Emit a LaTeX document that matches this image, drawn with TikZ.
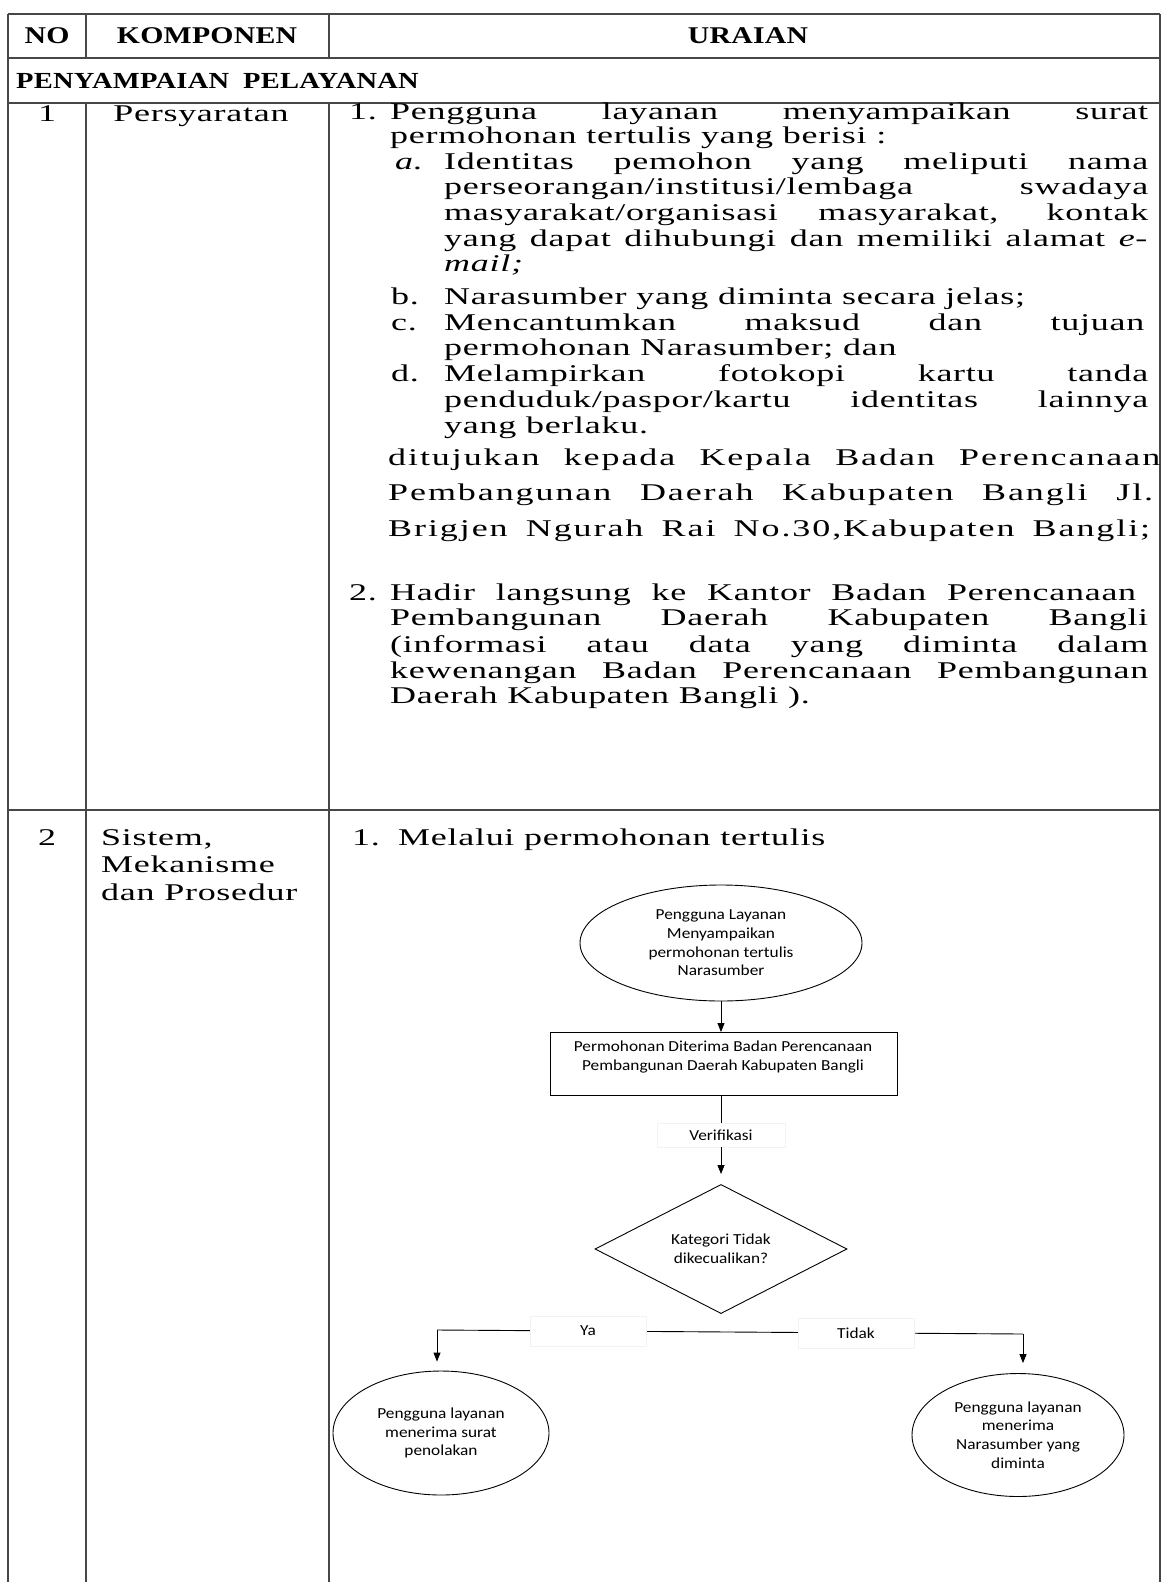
\documentclass[tikz,border=0pt]{standalone}
\usepackage{fontspec}
\setmainfont{Liberation Serif}[FakeStretch=1.5, LetterSpace=3]
\newfontfamily\fhead{Liberation Serif}[FakeStretch=1.24, LetterSpace=1]
\newfontfamily\fcal{Carlito}[FakeStretch=1.13]
\newfontfamily\fsp{Liberation Serif}[FakeStretch=1.5, LetterSpace=8]
\usetikzlibrary{shapes.geometric,arrows.meta}
\newcommand\JL[2]{\makebox[#1pt][s]{#2}}
\begin{document}
\begin{tikzpicture}[x=1pt,y=-1pt,
  tbl/.style={line width=1.4pt, draw=black!72},
  body/.style={anchor=base west, inner sep=0pt, font=\fontsize{24}{25.5}\selectfont},
  bodyc/.style={anchor=base, inner sep=0pt, font=\fontsize{24}{25.5}\selectfont},
  head/.style={anchor=base, inner sep=0pt, font=\fhead\bfseries\fontsize{24}{25.5}\selectfont},
  fc/.style={font=\fcal\fontsize{15.3}{18.7}\selectfont, align=center},
  fshape/.style={draw, line width=0.9pt, inner sep=0pt},
  lbl/.style={draw=black!5, fill=white, inner sep=0pt, font=\fcal\fontsize{15.3}{18.7}\selectfont},
  conn/.style={line width=0.9pt},
  arr/.style={line width=0.9pt, -{Triangle[length=9pt,width=7pt]}}]
\useasboundingbox (0,0) rectangle (1163,1582);
\fill[white] (0,0) rectangle (1163,1582);
% table
\draw[tbl] (8,14) -- (1160,14);
\draw[tbl] (8,58) -- (1160,58);
\draw[tbl] (8,103) -- (1160,103);
\draw[tbl] (8,810) -- (1160,810);
\draw[tbl] (8,14) -- (8,1582);
\draw[tbl] (1160,14) -- (1160,1582);
\draw[tbl] (86,14) -- (86,58);
\draw[tbl] (329,14) -- (329,58);
\draw[tbl] (86,103) -- (86,1582);
\draw[tbl] (329,103) -- (329,1582);
% header
\node[head] (hno) at (47,43) {NO};
\node[head] (hkom) at (207,43) {KOMPONEN};
\node[head] (hur) at (748,43) {URAIAN};
\node[head, anchor=base west, font=\fhead\bfseries\fontsize{23}{25.5}\selectfont] (hsec) at (16,88) {PENYAMPAIAN\hspace{14pt}PELAYANAN};
% row 1
\node[bodyc] (r1no) at (47,121) {1};
\node[bodyc] (r1k) at (201,121) {Persyaratan};
\node[body] (n1) at (349,119) {1.};
\node[body] (l1) at (390,119) {\JL{758}{Pengguna layanan menyampaikan surat}};
\node[body] (l2) at (390,143) {permohonan tertulis yang berisi :};
\node[body] (na) at (395,169) {\textit{a.}};
\node[body] (l3) at (444,169) {\JL{704}{Identitas pemohon yang meliputi nama}};
\node[body] (l4) at (444,194) {\JL{704}{perseorangan/institusi/lembaga swadaya}};
\node[body] (l5) at (444,220) {\JL{704}{masyarakat/organisasi masyarakat, kontak}};
\node[body] (l6) at (444,246) {\JL{704}{yang dapat dihubungi dan memiliki alamat \textit{e-}}};
\node[body] (l7) at (444,271) {\textit{mail;}};
\node[body] (nb) at (391,304) {b.};
\node[body] (l8) at (444,304) {Narasumber yang diminta secara jelas;};
\node[body] (nc) at (391,330) {c.};
\node[body] (l9) at (444,330) {\JL{700}{Mencantumkan maksud dan tujuan}};
\node[body] (l10) at (444,355) {permohonan Narasumber; dan};
\node[body] (nd) at (391,381) {d.};
\node[body] (l11) at (444,381) {\JL{704}{Melampirkan fotokopi kartu tanda}};
\node[body] (l12) at (444,407) {\JL{704}{penduduk/paspor/kartu identitas lainnya}};
\node[body] (l13) at (444,433) {yang berlaku.};
\node[body] (l14) at (388,465) {\fsp\JL{772}{ditujukan kepada Kepala Badan Perencanaan}};
\node[body] (l15) at (388,500) {\fsp\JL{765}{Pembangunan Daerah Kabupaten Bangli Jl.}};
\node[body] (l16) at (388,536) {\fsp\JL{762}{Brigjen Ngurah Rai No.30,Kabupaten Bangli;}};
\node[body] (n2) at (349,600) {2.};
\node[body] (l17) at (390,600) {\JL{746}{Hadir langsung ke Kantor Badan Perencanaan}};
\node[body] (l18) at (390,625) {\JL{758}{Pembangunan Daerah Kabupaten Bangli}};
\node[body] (l19) at (390,652) {\JL{758}{(informasi atau data yang diminta dalam}};
\node[body] (l20) at (390,678) {\JL{758}{kewenangan Badan Perencanaan Pembangunan}};
\node[body] (l21) at (390,703) {Daerah Kabupaten Bangli ).};
% row 2
\node[bodyc] (r2no) at (47,845) {2};
\node[body] (r2k1) at (101,845) {Sistem,};
\node[body] (r2k2) at (101,872) {Mekanisme};
\node[body] (r2k3) at (101,900) {dan Prosedur};
\node[body] (m1n) at (352,845) {1.};
\node[body] (m1) at (398,845) {Melalui permohonan tertulis};
% flowchart
\node[fshape, fc, ellipse, minimum width=282pt, minimum height=116pt] (e1) at (721,943)
  {Pengguna Layanan\\Menyampaikan\\permohonan tertulis\\Narasumber};
\node[fshape, minimum width=347pt, minimum height=63pt] (b1) at (723.5,1064) {};
\node[fc, inner sep=0pt] (b1t) at (723,1057)
  {Permohonan Diterima Badan Perencanaan\\Pembangunan Daerah Kabupaten Bangli};
\node[lbl, minimum width=128pt, minimum height=24pt] (ver) at (721,1135) {Verifikasi};
\node[fshape, fc, diamond, minimum width=252pt, minimum height=117pt] (dia) at (721,1249)
  {Kategori Tidak\\dikecualikan?};
\coordinate (yl) at (437,1330);
\coordinate (yr) at (1023,1334);
\draw[conn] (yl) -- (yr);
\node[lbl, minimum width=116pt, minimum height=30pt] (ya) at (588,1331) {Ya};
\node[lbl, minimum width=116pt, minimum height=30pt] (tidak) at (856,1333) {Tidak};
\node[fshape, fc, ellipse, minimum width=216pt, minimum height=124pt] (el) at (441,1433)
  {Pengguna layanan\\menerima surat\\penolakan};
\node[fshape, fc, ellipse, minimum width=212pt, minimum height=123pt] (er) at (1018,1435)
  {Pengguna layanan\\menerima\\Narasumber yang\\diminta};
\draw[arr] (e1.south) -- (e1.south |- b1.north);
\draw[conn] (b1.south -| ver.north) -- (ver.north);
\draw[arr, shorten >=10pt] (ver.south) -- (dia.north);
\draw[arr, shorten >=9pt] (yl) -- (yl |- el.north);
\draw[arr, shorten >=10pt] (yr) -- (yr |- er.north);
\end{tikzpicture}
\end{document}
